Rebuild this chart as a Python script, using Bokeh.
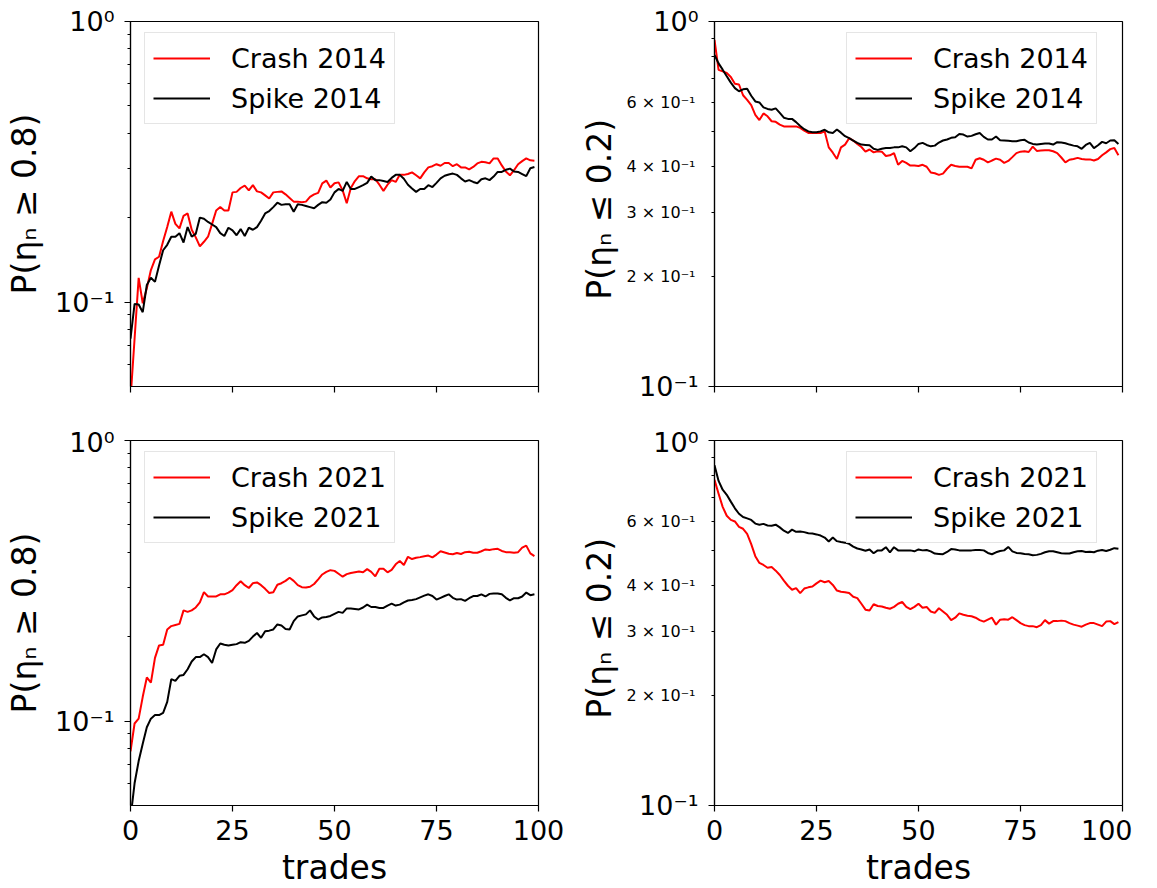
from bokeh.plotting import figure
from bokeh.layouts import gridplot
from bokeh.models import Range1d, FixedTicker, LogAxis
from bokeh.embed import file_html
from bokeh.resources import INLINE

trades = list(range(100))

crash_2014_high = [0.045, 0.074, 0.122, 0.099, 0.112, 0.130, 0.142, 0.145, 0.165, 0.185,
                   0.210, 0.190, 0.183, 0.203, 0.207, 0.181, 0.170, 0.158, 0.164, 0.171,
                   0.190, 0.212, 0.218, 0.212, 0.212, 0.246, 0.247, 0.255, 0.260, 0.250,
                   0.261, 0.248, 0.246, 0.240, 0.234, 0.246, 0.247, 0.248, 0.242, 0.235,
                   0.228, 0.228, 0.227, 0.228, 0.237, 0.242, 0.245, 0.265, 0.271, 0.256,
                   0.265, 0.267, 0.250, 0.225, 0.255, 0.270, 0.281, 0.281, 0.276, 0.274,
                   0.274, 0.262, 0.249, 0.262, 0.272, 0.268, 0.284, 0.284, 0.286, 0.290,
                   0.283, 0.276, 0.290, 0.302, 0.305, 0.310, 0.306, 0.313, 0.313, 0.305,
                   0.310, 0.302, 0.302, 0.297, 0.303, 0.312, 0.316, 0.315, 0.312, 0.325,
                   0.325, 0.307, 0.292, 0.283, 0.295, 0.310, 0.318, 0.325, 0.320, 0.319]
spike_2014_high = [0.074, 0.0985, 0.098, 0.092, 0.115, 0.122, 0.118, 0.135, 0.153, 0.160,
                   0.171, 0.171, 0.176, 0.163, 0.185, 0.171, 0.175, 0.200, 0.198, 0.193,
                   0.189, 0.185, 0.176, 0.172, 0.184, 0.180, 0.173, 0.182, 0.172, 0.184,
                   0.181, 0.185, 0.195, 0.207, 0.211, 0.218, 0.226, 0.222, 0.223, 0.223,
                   0.210, 0.223, 0.222, 0.220, 0.218, 0.216, 0.222, 0.227, 0.226, 0.232,
                   0.246, 0.253, 0.249, 0.268, 0.253, 0.253, 0.257, 0.261, 0.266, 0.280,
                   0.272, 0.272, 0.270, 0.268, 0.277, 0.284, 0.284, 0.275, 0.262, 0.254,
                   0.247, 0.253, 0.253, 0.261, 0.257, 0.266, 0.276, 0.282, 0.285, 0.287,
                   0.284, 0.276, 0.269, 0.272, 0.268, 0.265, 0.274, 0.276, 0.272, 0.280,
                   0.291, 0.291, 0.296, 0.299, 0.292, 0.291, 0.286, 0.281, 0.300, 0.303]
crash_2014_low = [0.890, 0.737, 0.730, 0.723, 0.705, 0.675, 0.672, 0.628, 0.610, 0.590,
                  0.555, 0.537, 0.560, 0.550, 0.533, 0.531, 0.522, 0.516, 0.516, 0.516,
                  0.516, 0.511, 0.502, 0.495, 0.495, 0.495, 0.495, 0.500, 0.452, 0.437,
                  0.420, 0.452, 0.460, 0.479, 0.472, 0.462, 0.453, 0.440, 0.446, 0.438,
                  0.441, 0.440, 0.428, 0.430, 0.436, 0.405, 0.415, 0.410, 0.403, 0.403,
                  0.402, 0.405, 0.400, 0.386, 0.384, 0.380, 0.383, 0.395, 0.405, 0.402,
                  0.400, 0.400, 0.400, 0.396, 0.418, 0.422, 0.418, 0.411, 0.416, 0.421,
                  0.418, 0.410, 0.415, 0.425, 0.436, 0.440, 0.441, 0.439, 0.454, 0.442,
                  0.443, 0.444, 0.444, 0.441, 0.436, 0.424, 0.411, 0.418, 0.420, 0.423,
                  0.420, 0.419, 0.419, 0.416, 0.420, 0.430, 0.438, 0.447, 0.450, 0.430]
spike_2014_low = [0.810, 0.768, 0.738, 0.708, 0.680, 0.657, 0.644, 0.652, 0.654, 0.626,
                  0.604, 0.600, 0.582, 0.576, 0.573, 0.578, 0.562, 0.545, 0.541, 0.541,
                  0.530, 0.517, 0.507, 0.500, 0.497, 0.497, 0.500, 0.505, 0.497, 0.495,
                  0.506, 0.496, 0.485, 0.479, 0.472, 0.465, 0.460, 0.459, 0.458, 0.448,
                  0.445, 0.448, 0.450, 0.450, 0.452, 0.452, 0.455, 0.452, 0.441, 0.450,
                  0.462, 0.465, 0.459, 0.455, 0.457, 0.466, 0.472, 0.475, 0.480, 0.482,
                  0.492, 0.490, 0.484, 0.486, 0.491, 0.495, 0.483, 0.475, 0.475, 0.484,
                  0.473, 0.472, 0.471, 0.470, 0.470, 0.473, 0.474, 0.466, 0.462, 0.460,
                  0.462, 0.463, 0.463, 0.460, 0.467, 0.466, 0.464, 0.460, 0.457, 0.455,
                  0.448, 0.459, 0.465, 0.450, 0.458, 0.468, 0.464, 0.472, 0.473, 0.462]
crash_2021_high = [0.078, 0.098, 0.102, 0.122, 0.143, 0.137, 0.168, 0.186, 0.187, 0.212,
                   0.218, 0.220, 0.222, 0.248, 0.245, 0.248, 0.254, 0.265, 0.288, 0.278,
                   0.278, 0.278, 0.283, 0.283, 0.287, 0.293, 0.305, 0.315, 0.305, 0.298,
                   0.310, 0.312, 0.305, 0.296, 0.286, 0.288, 0.306, 0.310, 0.316, 0.324,
                   0.316, 0.305, 0.300, 0.299, 0.301, 0.308, 0.320, 0.333, 0.340, 0.345,
                   0.343, 0.335, 0.327, 0.334, 0.337, 0.339, 0.341, 0.339, 0.348, 0.340,
                   0.328, 0.349, 0.349, 0.339, 0.346, 0.362, 0.372, 0.360, 0.385, 0.378,
                   0.382, 0.384, 0.387, 0.389, 0.383, 0.392, 0.403, 0.399, 0.395, 0.393,
                   0.397, 0.394, 0.400, 0.401, 0.398, 0.398, 0.403, 0.409, 0.407, 0.410,
                   0.411, 0.404, 0.400, 0.400, 0.398, 0.400, 0.415, 0.422, 0.396, 0.387]
spike_2021_high = [0.045, 0.060, 0.072, 0.083, 0.095, 0.102, 0.105, 0.105, 0.107, 0.117,
                   0.141, 0.139, 0.145, 0.146, 0.153, 0.163, 0.169, 0.169, 0.173, 0.169,
                   0.161, 0.180, 0.189, 0.187, 0.186, 0.187, 0.188, 0.191, 0.190, 0.193,
                   0.200, 0.206, 0.198, 0.209, 0.210, 0.212, 0.221, 0.219, 0.213, 0.212,
                   0.227, 0.236, 0.238, 0.240, 0.248, 0.236, 0.230, 0.234, 0.235, 0.237,
                   0.241, 0.245, 0.243, 0.252, 0.252, 0.251, 0.250, 0.254, 0.260, 0.255,
                   0.255, 0.253, 0.253, 0.258, 0.262, 0.258, 0.260, 0.265, 0.269, 0.270,
                   0.272, 0.276, 0.280, 0.283, 0.279, 0.271, 0.275, 0.279, 0.283, 0.275,
                   0.271, 0.272, 0.268, 0.274, 0.279, 0.279, 0.283, 0.278, 0.284, 0.285,
                   0.285, 0.283, 0.275, 0.269, 0.274, 0.274, 0.278, 0.287, 0.281, 0.283]
crash_2021_low = [0.780, 0.715, 0.658, 0.622, 0.606, 0.600, 0.580, 0.573, 0.555, 0.520,
                  0.482, 0.462, 0.456, 0.448, 0.450, 0.440, 0.428, 0.413, 0.400, 0.390,
                  0.394, 0.382, 0.393, 0.396, 0.398, 0.406, 0.413, 0.409, 0.412, 0.402,
                  0.388, 0.385, 0.384, 0.382, 0.373, 0.370, 0.357, 0.344, 0.342, 0.356,
                  0.352, 0.351, 0.348, 0.346, 0.350, 0.357, 0.361, 0.350, 0.345, 0.350,
                  0.357, 0.348, 0.350, 0.340, 0.337, 0.347, 0.340, 0.333, 0.322, 0.327,
                  0.336, 0.333, 0.331, 0.330, 0.327, 0.322, 0.319, 0.323, 0.327, 0.313,
                  0.323, 0.324, 0.323, 0.328, 0.322, 0.316, 0.312, 0.310, 0.310, 0.308,
                  0.312, 0.322, 0.315, 0.320, 0.320, 0.321, 0.320, 0.316, 0.313, 0.311,
                  0.309, 0.313, 0.316, 0.316, 0.313, 0.310, 0.319, 0.320, 0.314, 0.318]
spike_2021_low = [0.855, 0.775, 0.733, 0.710, 0.680, 0.652, 0.630, 0.617, 0.612, 0.606,
                  0.592, 0.588, 0.591, 0.585, 0.584, 0.588, 0.578, 0.566, 0.558, 0.570,
                  0.562, 0.563, 0.561, 0.557, 0.556, 0.553, 0.549, 0.542, 0.529, 0.542,
                  0.530, 0.527, 0.525, 0.521, 0.512, 0.506, 0.503, 0.499, 0.503, 0.491,
                  0.500, 0.500, 0.510, 0.494, 0.510, 0.500, 0.500, 0.500, 0.500, 0.497,
                  0.503, 0.500, 0.501, 0.497, 0.490, 0.489, 0.488, 0.495, 0.504, 0.503,
                  0.500, 0.500, 0.500, 0.500, 0.501, 0.501, 0.500, 0.492, 0.488, 0.494,
                  0.498, 0.500, 0.511, 0.497, 0.492, 0.491, 0.489, 0.488, 0.485, 0.486,
                  0.489, 0.494, 0.497, 0.497, 0.494, 0.491, 0.490, 0.490, 0.494, 0.497,
                  0.498, 0.495, 0.496, 0.494, 0.499, 0.501, 0.498, 0.502, 0.507, 0.505]

x_ticks = [0, 25, 50, 75, 100]
label_high = "P(ηₙ ≥ 0.8)"
label_low = "P(ηₙ ≤  0.2)"
big_ticks = [0.1, 1.0]
big_tick_labels = {0.1: "10⁻¹", 1.0: "10⁰"}
small_ticks = [0.2, 0.3, 0.4, 0.6]
small_tick_labels = {0.2: "2 × 10⁻¹", 0.3: "3 × 10⁻¹", 0.4: "4 × 10⁻¹", 0.6: "6 × 10⁻¹"}
minor_high = [0.06, 0.07, 0.08, 0.09, 0.2, 0.3, 0.4, 0.5, 0.6, 0.7, 0.8, 0.9]
minor_low = [0.2, 0.3, 0.4, 0.5, 0.6, 0.7, 0.8, 0.9]

FONT = "DejaVu Sans"


def style_label(ax, text):
    ax.axis_label = text
    ax.axis_label_text_font = FONT
    ax.axis_label_text_font_size = "33px"
    ax.axis_label_text_font_style = "normal"
    ax.axis_label_text_color = "black"


def panel(crash, spike, year, ylabel, ymin, minor, small, bottom_row, right_col):
    p = figure(frame_width=408, frame_height=365,
               x_range=Range1d(0, 100), y_range=Range1d(ymin, 1.0),
               y_axis_type="log", output_backend="svg", toolbar_location=None,
               min_border_left=140 if right_col else 130,
               min_border_right=10 if right_col else 36,
               min_border_top=21 if not bottom_row else 14,
               min_border_bottom=76 if bottom_row else 40,
               background_fill_color="white", border_fill_color="white")
    p.xgrid.visible = False
    p.ygrid.visible = False
    p.outline_line_color = "black"
    p.outline_line_width = 1.2
    p.outline_line_alpha = 1.0

    p.line(trades, crash, line_color="#ff0000", line_width=2, legend_label=f"Crash {year}")
    p.line(trades, spike, line_color="#000000", line_width=2, legend_label=f"Spike {year}")

    xa = p.xaxis[0]
    xa.ticker = FixedTicker(ticks=x_ticks)
    xa.minor_tick_line_color = None
    xa.major_tick_out = 6
    xa.major_tick_in = 0
    xa.major_tick_line_width = 1.2
    xa.axis_line_width = 1.2
    xa.major_label_text_font = FONT
    if bottom_row:
        xa.major_label_text_color = "black"
        xa.major_label_text_font_size = "27px"
        xa.major_label_standoff = 8
        style_label(xa, "trades")
        xa.axis_label_standoff = 5
    else:
        xa.major_label_text_color = None
        xa.major_label_text_font_size = "0px"

    ya = p.yaxis[0]
    ya.ticker = FixedTicker(ticks=big_ticks, minor_ticks=minor)
    ya.major_label_overrides = big_tick_labels
    ya.major_label_text_font = FONT
    ya.major_label_text_font_size = "27px"
    ya.major_label_text_color = "black"
    ya.major_label_standoff = 10
    ya.major_tick_out = 6
    ya.major_tick_in = 0
    ya.minor_tick_out = 3
    ya.minor_tick_in = 0
    ya.major_tick_line_width = 1.2
    ya.minor_tick_line_width = 1.0
    ya.axis_line_width = 1.2

    if small:
        # second axis carrying the smaller labelled ticks (2,3,4,6 x 10^-1)
        ya2 = LogAxis(ticker=FixedTicker(ticks=small_ticks))
        ya2.major_label_overrides = small_tick_labels
        ya2.major_label_text_font = FONT
        ya2.major_label_text_font_size = "16px"
        ya2.major_label_text_color = "black"
        ya2.axis_line_color = None
        ya2.major_tick_line_color = None
        ya2.minor_tick_line_color = None
        ya2.major_tick_out = 0
        ya2.major_tick_in = 0
        ya2.major_label_standoff = -59
        style_label(ya2, ylabel)
        ya2.axis_label_standoff = 5
        p.add_layout(ya2, "left")
    else:
        style_label(ya, ylabel)
        ya.axis_label_standoff = 8

    lg = p.legend[0]
    lg.location = (132, 262) if right_col else (14, 262)
    lg.label_text_font = FONT
    lg.label_text_font_size = "27px"
    lg.label_text_color = "black"
    lg.glyph_width = 57
    lg.glyph_height = 34
    lg.label_height = 34
    lg.label_standoff = 21
    lg.spacing = 6
    lg.padding = 8
    lg.margin = 0
    lg.border_line_color = "#cccccc"
    lg.border_line_width = 1
    lg.background_fill_alpha = 0.8
    return p


p1 = panel(crash_2014_high, spike_2014_high, 2014, label_high, 0.05, minor_high, False, False, False)
p2 = panel(crash_2014_low, spike_2014_low, 2014, label_low, 0.1, minor_low, True, False, True)
p3 = panel(crash_2021_high, spike_2021_high, 2021, label_high, 0.05, minor_high, False, True, False)
p4 = panel(crash_2021_low, spike_2021_low, 2021, label_low, 0.1, minor_low, True, True, True)

grid = gridplot([[p1, p2], [p3, p4]], toolbar_location=None)

open("out.html", "w").write(file_html(grid, INLINE))
